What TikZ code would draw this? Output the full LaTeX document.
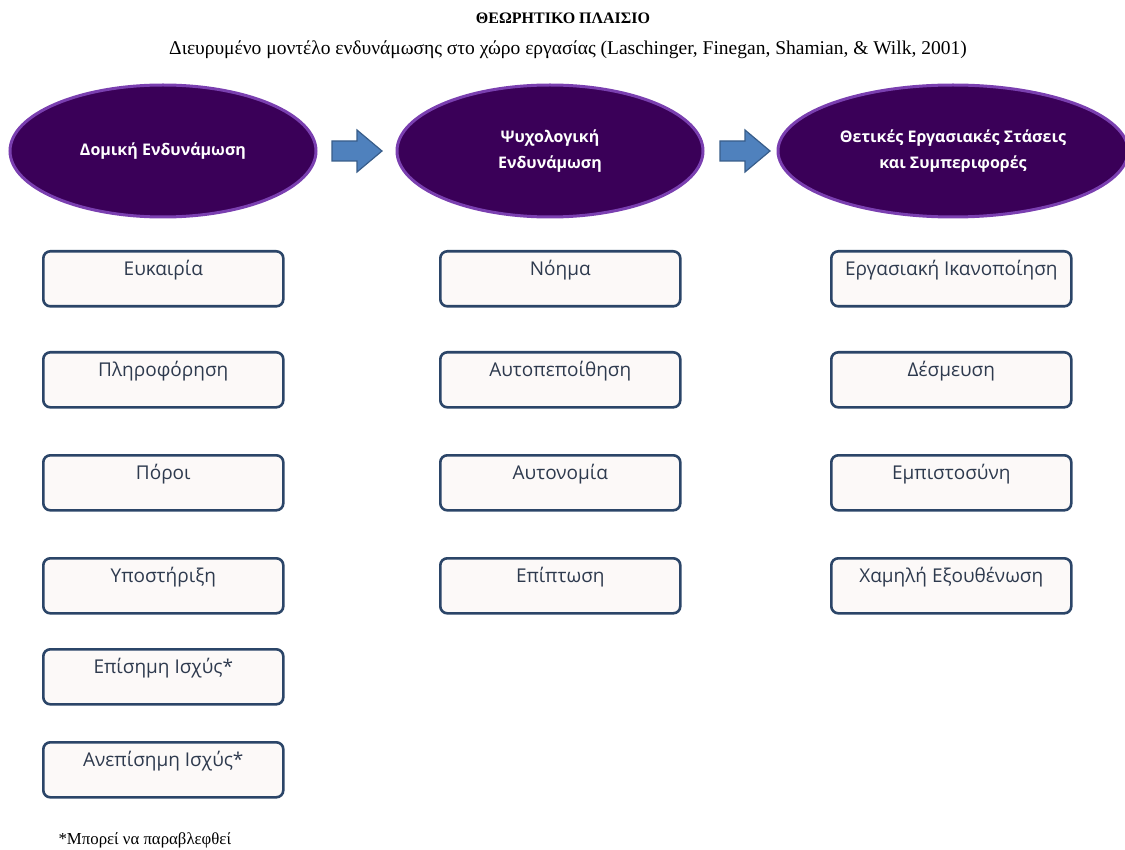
\documentclass[tikz,border=0pt]{standalone}
\usepackage{fontspec}
\setmainfont{Liberation Serif}
\newfontfamily\boxfont{Open Sans}
\usetikzlibrary{shapes.geometric}
\definecolor{ellfill}{HTML}{3A0058}
\definecolor{elldraw}{HTML}{7A3FB0}
\definecolor{arrfill}{HTML}{4F81BD}
\definecolor{arrdraw}{HTML}{385D8A}
\definecolor{boxfill}{HTML}{FCF9F8}
\definecolor{boxdraw}{HTML}{2B4568}
\definecolor{boxtext}{HTML}{2E3A4E}
\tikzset{
  ell/.style={ellipse, fill=ellfill, draw=elldraw, line width=3pt, minimum width=306pt, minimum height=132pt, inner sep=0pt,
    text=white, font=\boxfont\bfseries\fontsize{16}{26}\selectfont, align=center},
  itembox/.style={rectangle, rounded corners=7pt, fill=boxfill, draw=boxdraw, line width=2.6pt,
    minimum width=240pt, minimum height=55pt, anchor=north west, inner sep=0pt},
  itemtext/.style={text=boxtext, font=\boxfont\fontsize{19}{22}\selectfont, anchor=center},
  blockarrow/.style={fill=arrfill, draw=arrdraw, line width=1.2pt, line join=miter}
}
\begin{document}
\begin{tikzpicture}[x=1pt,y=-1pt]
\useasboundingbox (0,0) rectangle (1125,850);
\node[font=\bfseries\fontsize{16}{18}\selectfont] (title) at (563,18) {ΘΕΩΡΗΤΙΚΟ ΠΛΑΙΣΙΟ};
\node[font=\fontsize{19.5}{22}\selectfont] (sub) at (568,50) {Διευρυμένο μοντέλο ενδυνάμωσης στο χώρο εργασίας (Laschinger, Finegan, Shamian, \& Wilk, 2001)};
\node[ell] (e1) at (163,151) {Δομική Ενδυνάμωση};
\node[ell] (e2) at (550,151) {Ψυχολογική\\Ενδυνάμωση};
\node[ell, minimum width=350pt] (e3) at (953,151) {Θετικές Εργασιακές Στάσεις\\και Συμπεριφορές};
% block arrows
\foreach \n/\x in {a1/332, a2/720}{
  \draw[blockarrow] (\x,141) -- (\x+25,141) -- (\x+25,130) -- (\x+50,151) -- (\x+25,172) -- (\x+25,161) -- (\x,161) -- cycle;
  \coordinate (\n) at (\x+25,151);
}
% boxes
\foreach \col/\x/\items in {
  c1/42/{Ευκαιρία,Πληροφόρηση,Πόροι,Υποστήριξη,Επίσημη Ισχύς*,Ανεπίσημη Ισχύς*},
  c2/439/{Νόημα,Αυτοπεποίθηση,Αυτονομία,Επίπτωση},
  c3/830/{Εργασιακή Ικανοποίηση,Δέσμευση,Εμπιστοσύνη,Χαμηλή Εξουθένωση}}{
  \foreach \t [count=\i] in \items {
    \pgfmathsetmacro{\y}{{250,351,454,557,648,741}[\i-1]}
    \node[itembox] (\col b\i) at (\x,\y) {};
    \node[itemtext] (\col t\i) at ([yshift=-20pt]\col b\i.north) {\t};
  }
}
\node[anchor=west, font=\fontsize{16.8}{18}\selectfont] (note) at (55,840) {*Μπορεί να παραβλεφθεί};
\end{tikzpicture}
\end{document}
